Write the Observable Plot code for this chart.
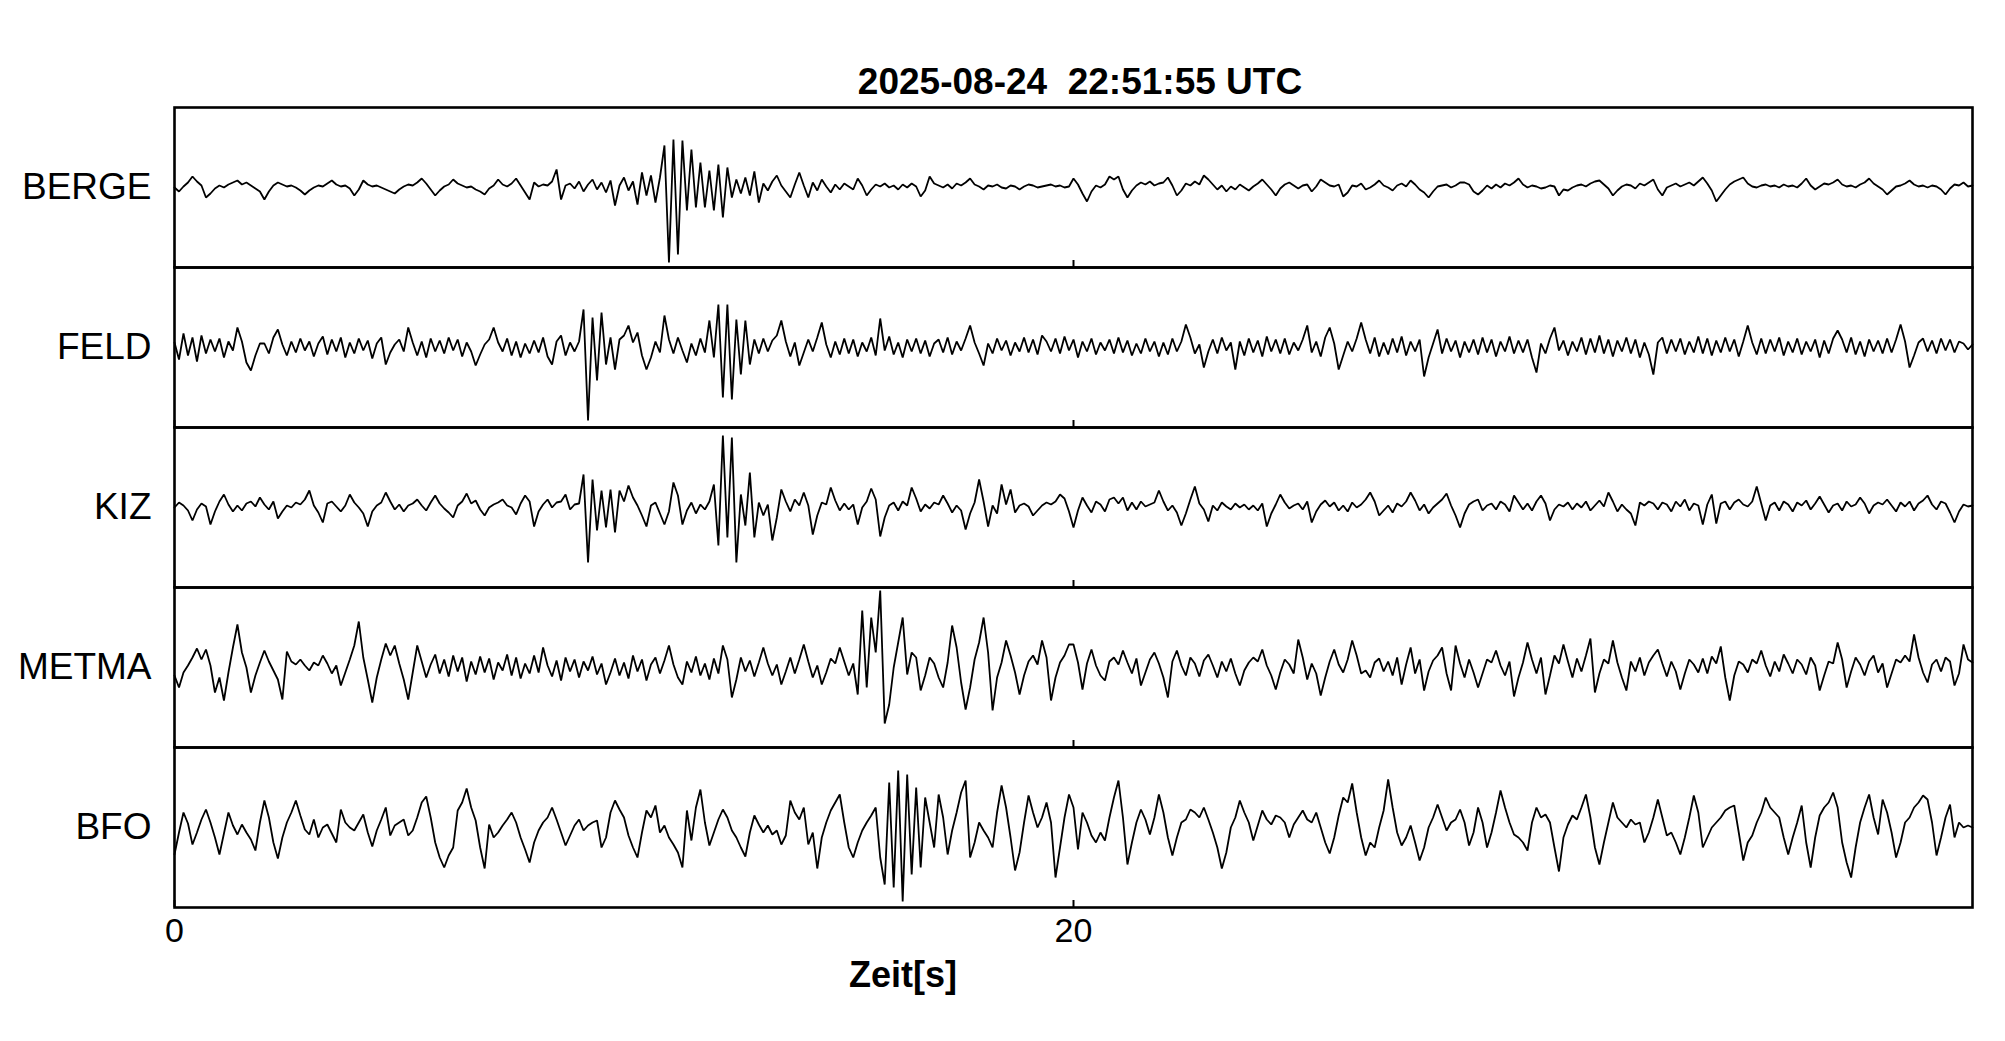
<!DOCTYPE html>
<html><head><meta charset="utf-8">
<script src="https://cdn.jsdelivr.net/npm/d3@7"></script>
<script src="https://cdn.jsdelivr.net/npm/@observablehq/plot@0.6"></script>
<style>
html,body{margin:0;padding:0;background:#fff;}
#wrap{position:relative;width:2005px;height:1041px;font-family:"Liberation Sans",Arial,sans-serif;color:#000;}
#chart{position:absolute;left:0;top:0;}
#title{position:absolute;top:63px;left:1080px;transform:translateX(-50%);font-size:37px;font-weight:bold;line-height:37px;white-space:pre;}
#xlabel{position:absolute;top:957px;left:903px;transform:translateX(-50%);font-size:36px;font-weight:bold;line-height:36px;white-space:pre;}
</style></head>
<body><div id="wrap"><div id="chart"></div><div id="title"></div><div id="xlabel"></div></div>
<script>
const titleText = "2025-08-24  22:51:55 UTC";
const xLabel = "Zeit[s]";
const stations = ["BERGE", "FELD", "KIZ", "METMA", "BFO"];
const xTicks = [0, 20];
const dt = 0.1; // sample interval, s

const berge = [
0,-4,1,5,11,6,2,-10,-6,-1,
2,0,3,5,7,3,5,2,-1,-4,
-12,-4,2,5,3,1,2,0,-3,-7,
-3,0,2,1,4,7,3,1,2,-1,
-8,-2,7,3,1,2,0,-2,-4,-6,
-2,1,3,2,5,9,4,-2,-8,-3,
1,3,8,4,2,0,1,-2,-4,-7,
-1,2,8,3,1,4,9,2,-5,-12,
5,1,3,2,6,18,-12,2,4,-1,
6,-4,3,8,-2,5,-5,7,-18,2,
10,-3,6,-17,15,-8,12,-15,10,42,
-75,48,-67,47,-23,38,-20,25,-20,17,
-23,23,-30,20,-10,8,-6,10,-8,16,
-15,4,-3,6,12,2,-4,-10,3,15,
2,-10,5,-3,8,1,-5,3,-2,4,
1,-2,9,2,-8,-2,3,1,4,0,
2,-2,3,0,4,1,-9,-3,11,4,
2,0,3,-1,4,2,5,9,3,1,
-2,2,1,3,0,-1,2,1,-2,1,
3,2,0,1,2,3,1,2,0,1,
9,3,-6,-14,-4,2,0,3,11,8,
11,-2,-10,-3,2,5,3,6,2,4,
5,10,2,-8,-3,4,2,6,3,12,
8,3,-2,2,-4,1,-2,3,0,-3,
1,4,8,3,-2,-8,-1,3,5,2,
-1,2,3,-4,1,8,5,2,1,3,
-9,-5,2,1,4,-2,0,3,7,2,
0,-3,2,4,1,7,3,-2,-5,-10,
-4,1,2,3,0,2,5,5,3,-4,
-7,-3,2,-1,3,0,4,2,5,9,
3,0,2,1,-1,0,2,1,-8,-2,
-3,0,2,3,1,4,6,7,3,-1,
-8,-3,1,3,2,-1,4,2,5,8,
-2,-8,0,2,4,1,3,5,2,6,
10,4,-3,-14,-8,-2,3,6,8,10,
4,1,0,2,3,1,2,0,3,1,
2,0,4,9,2,-2,1,4,3,5,
8,3,1,2,0,3,5,9,4,1,
-2,-7,-3,1,2,4,7,3,1,2,
0,2,1,-2,-7,-1,3,2,5,1,
2];

const feld = [
5,-12,14,-8,10,-14,12,-6,8,-4,
9,-10,6,-3,20,6,-15,-23,-8,4,
4,-6,10,18,3,-8,6,-5,9,-3,
6,-9,4,11,-7,8,-4,10,-10,5,
-6,9,-3,7,-11,4,10,-17,-5,3,
8,-4,20,5,-8,6,-10,9,-4,7,
-6,10,-3,8,-9,5,-4,-18,-7,3,
8,20,5,-4,9,-8,6,-10,4,-6,
7,-5,10,-9,-17,6,12,-8,5,-4,
6,38,-73,30,-33,35,-17,10,-22,8,
12,22,5,15,-8,-22,-10,6,-5,32,
8,-6,10,-3,-15,4,-8,9,-5,27,
-10,43,-50,43,-52,28,-27,27,-17,8,
-6,9,-4,7,12,27,6,-9,5,-18,
-5,8,-4,10,25,3,-10,6,-7,9,
-6,8,-9,5,-4,10,-8,29,-3,11,
-7,5,-10,8,-4,9,-6,7,-9,4,
8,-5,10,-7,6,-3,9,22,5,-6,
-18,4,-6,9,-3,7,-8,5,-4,10,
-5,8,-7,12,6,-4,9,-6,11,-3,
8,-10,6,-4,9,-7,5,-3,8,-6,
10,-5,7,-8,4,-6,9,-4,6,-9,
5,-7,9,-4,6,23,10,-6,3,-20,
-4,8,-6,10,-3,5,-22,6,-8,9,
-5,7,-9,11,-4,8,-6,9,-7,5,
-3,8,22,-5,6,-9,10,20,4,-22,
-8,6,-4,9,25,8,-6,10,-9,5,
-7,9,-5,11,-8,6,-4,8,-29,-10,
4,18,-6,9,-4,7,-10,6,-5,8,
-7,10,-5,8,-9,6,-4,11,-6,7,
-5,8,-10,-25,4,-6,9,20,-3,7,
-8,6,-4,10,-7,9,-5,12,-6,8,
-9,7,-4,10,-6,8,-10,5,-7,-27,
5,10,-6,8,-4,9,-7,6,-5,11,
-6,9,-8,7,-5,10,-4,8,-9,6,
22,5,-7,9,-6,8,-4,10,-8,6,
-5,9,-7,6,-4,8,-10,7,-6,9,
17,8,-5,10,-7,6,-9,8,-4,7,
-6,9,-5,8,23,6,-20,-8,5,9,
-4,7,-6,9,-3,8,-5,6,4,-2,
3];

const kiz = [
0,5,2,-3,-13,-2,4,1,-17,-4,
6,13,3,-4,2,-3,4,6,1,10,
3,-2,6,-11,-4,2,0,5,3,8,
17,2,-5,-15,4,6,1,-4,2,13,
5,0,-6,-19,-4,2,5,15,6,-2,
3,-4,2,4,8,2,-3,5,12,4,
-1,-5,-10,2,6,14,4,7,-2,-8,
0,3,5,8,2,0,-7,4,12,6,
-19,-4,3,8,0,5,6,13,-2,3,
4,33,-55,28,-23,17,-20,18,-25,17,
6,22,10,2,-8,-19,2,5,-6,-17,
-4,25,12,-17,-3,5,-6,3,-2,6,
23,-38,72,-30,70,-55,13,-18,35,-30,
5,-8,3,-33,-10,18,6,-4,8,2,
15,2,-27,-8,5,3,20,7,-3,4,
-2,3,-17,0,6,19,8,-29,-10,2,
5,-3,6,2,20,9,-4,3,-1,5,
3,12,4,-5,2,-3,-22,-6,5,28,
6,-19,2,-6,23,3,18,-5,2,4,
1,-8,-3,2,5,3,6,13,9,-4,
-20,-3,10,2,-5,6,3,-4,8,10,
4,10,-3,5,-2,6,1,3,5,17,
6,-3,2,-5,-18,-6,8,21,4,-2,
-14,2,-3,5,1,-2,4,0,3,-2,
2,-3,4,-19,-6,3,13,5,-1,2,
4,-2,6,-15,-4,3,7,1,5,-3,
2,-4,5,0,3,8,15,6,-8,-3,
2,-5,4,1,6,15,7,-3,3,-6,
0,4,8,14,2,-8,-20,-6,3,6,
8,-3,2,4,-2,6,3,-4,12,5,
-2,4,-3,6,12,4,-13,-2,3,1,
5,-2,4,0,6,-3,2,7,1,15,
6,-4,3,-2,-6,-18,5,2,6,4,
-2,5,3,-4,6,1,8,-3,4,2,
-17,3,13,-16,4,6,-2,5,8,3,
1,6,21,4,-13,2,5,-3,6,3,
-4,5,2,7,-2,4,11,3,-5,2,
4,-3,6,1,3,10,4,-6,2,5,
3,8,2,-4,5,1,6,-3,4,7,
12,3,-2,6,4,-5,-15,-4,3,1,
2];

const metma = [
-8,-20,-5,2,10,19,8,18,2,-25,
-10,-33,-5,20,43,15,0,-25,-8,5,
17,6,-3,-12,-32,16,6,3,8,2,
-3,5,2,12,4,-6,2,-18,-5,8,
22,46,10,-12,-35,-10,8,24,12,22,
4,-12,-32,-5,22,6,-10,3,13,-6,
8,-9,12,-4,10,-14,6,-7,11,-5,
9,-12,5,-3,13,-8,10,-11,4,-6,
12,-5,20,2,-9,7,-13,10,-4,8,
-10,6,-3,11,-7,4,-17,-5,9,-8,
5,-11,12,-4,8,-13,3,10,-6,7,
22,3,-10,-17,6,-5,11,-8,4,-12,
9,-6,22,8,-30,-12,10,-4,7,-9,
5,20,4,-8,3,-17,-4,10,-6,8,
23,6,-10,2,-17,-5,9,4,20,6,
-8,4,-27,57,-20,50,15,77,-56,-37,
0,25,50,-7,15,10,-23,-8,10,4,
-10,-20,5,42,20,-15,-42,-20,8,25,
50,15,-43,-10,5,27,12,-5,-27,-8,
6,12,3,27,10,-33,-10,5,12,23,
23,5,-22,4,18,2,-8,-13,6,10,
3,17,5,-6,9,-18,-5,8,15,4,
-10,-30,6,17,2,-8,10,4,-9,7,
13,2,-10,6,-4,9,-6,-18,-3,5,
10,6,18,2,-8,-22,-5,8,3,-6,
28,10,-12,4,-6,-28,-10,6,18,3,
-5,8,27,12,-6,-3,-10,5,9,-4,
6,-8,10,-17,3,20,-6,8,-23,-4,
7,12,20,-6,-23,22,4,-10,8,-5,
-20,-6,8,5,17,2,-8,6,-29,-10,
5,25,8,-6,10,-27,-8,12,4,23,
6,-10,9,-4,12,29,-25,-6,8,4,
27,5,-10,-23,6,-4,10,-8,5,12,
18,4,-9,6,-4,-22,-6,8,3,-5,
9,-6,11,4,21,-10,-33,-8,6,3,
-5,8,4,17,2,-9,6,-4,13,4,
-6,8,3,-7,10,2,-23,-8,6,4,
25,8,-20,-4,10,3,-8,6,12,-5,
4,-20,-6,8,5,12,6,33,10,-5,
-15,3,8,-4,10,6,-18,-6,23,8,
5];

const bfo = [
-27,-5,15,4,-17,-5,8,18,5,-10,
-27,-6,15,2,-7,3,-5,-12,-23,5,
27,10,-15,-31,-10,5,15,27,12,-2,
-7,8,-10,0,3,-6,-15,18,5,0,
-3,5,13,-5,-19,-3,8,20,-8,2,
5,8,-8,-3,10,25,31,10,-15,-30,
-40,-28,-20,17,25,39,20,7,-20,-41,
3,-10,-5,2,8,15,5,-10,-22,-35,
-15,-3,5,10,20,8,-5,-18,-8,2,
8,-3,2,5,7,-20,-10,15,27,18,
10,-8,-20,-30,-5,17,10,22,-5,2,
-10,-17,-25,-40,17,-13,20,38,5,-18,
-5,8,18,10,-3,-10,-20,-29,-5,12,
3,-5,2,-7,-3,-17,-8,27,15,8,
20,-17,-5,-41,-10,5,17,25,33,5,
-20,-30,-15,-3,5,12,20,-30,-57,45,
-60,57,-74,53,-47,40,-40,30,5,-20,
33,10,-27,-3,15,35,47,-30,-15,5,
-3,-10,-20,15,42,20,-10,-43,-25,5,
32,15,0,10,25,5,-50,-20,10,33,
20,-22,15,5,-8,-15,-5,-13,10,30,
47,10,-37,-15,5,18,8,-7,10,33,
15,-10,-28,-10,5,8,18,15,10,20,
8,-5,-20,-41,-25,0,10,27,15,5,
-13,2,17,8,3,12,10,5,-10,3,
10,17,8,5,15,0,-15,-26,-10,12,
30,25,44,15,-10,-28,-15,-20,0,17,
48,20,-5,-18,-10,2,-15,-33,-20,0,
10,23,10,-3,5,8,18,5,-18,-5,
20,5,-20,-5,15,37,20,5,-7,-10,
-15,-23,5,20,10,13,5,-20,-44,-10,
3,12,8,20,33,10,-20,-37,-15,5,
25,10,5,0,8,3,5,-15,-5,10,
28,10,-8,-5,-15,-27,-10,10,32,15,
-20,-10,0,5,10,17,20,22,-5,-33,
-15,-8,5,15,30,20,15,10,-10,-27,
-10,5,22,-15,-40,-10,12,20,25,35,
20,-15,-35,-50,-20,5,20,33,10,-7,
28,15,-5,-30,-15,5,10,20,25,32,
28,5,-28,-10,10,23,-10,5,0,2,
0];

const traceValues = {BERGE: berge, FELD: feld, KIZ: kiz, METMA: metma, BFO: bfo};
const traceTable = stations.flatMap(s => traceValues[s].map((v, i) => ({station: s, t: i * dt, v})));

document.getElementById("title").textContent = titleText;
document.getElementById("xlabel").textContent = xLabel;

const chart = Plot.plot({
  width: 2005,
  height: 1041,
  marginLeft: 174,
  marginRight: 33,
  marginTop: 107,
  marginBottom: 134,
  style: {fontFamily: '"Liberation Sans", Arial, sans-serif', fontSize: "36px", background: "#fff", color: "#000", overflow: "visible"},
  x: {domain: [0, 40]},
  y: {domain: [-80, 80], axis: null},
  fy: {domain: stations, padding: 0},
  marks: [
    Plot.line(traceTable, {x: "t", y: "v", fy: "station", stroke: "#000", strokeWidth: 1.8, strokeLinejoin: "miter"}),
    Plot.frame({stroke: "#000", strokeWidth: 2.6}),
    Plot.axisX({ticks: xTicks, tickSize: -7, strokeWidth: 2, tickFormat: () => "", label: null, facetAnchor: null}),
    Plot.axisX({ticks: xTicks, tickSize: 0, tickPadding: 10, fontSize: 34, label: null}),
    Plot.axisFy({anchor: "left", tickSize: 0, tickPadding: 23, fontSize: 37, label: null})
  ]
});
document.getElementById("chart").appendChild(chart);
</script>
</body></html>
